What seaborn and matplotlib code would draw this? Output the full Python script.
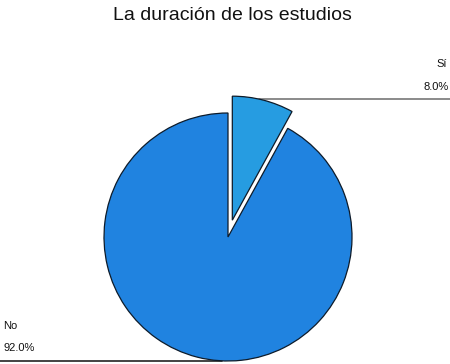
import numpy as np
import seaborn as sns
from matplotlib import pyplot as plt

TITLE = "La duración de los estudios"
LABELS = ["Sí", "No"]
VALUES = [8.0, 92.0]
PERCENT_LABELS = ["8.0%", "92.0%"]
COLORS = ["#269CE1", "#2083E0"]

W, H = 450, 364
CENTER = (228, H - 237)
RADIUS = 124
EXPLODE = [0.14, 0.0]  # fraction of radius


def arc_point(center, radius, angle_deg):
    # angle measured clockwise from 12 o'clock
    a = np.deg2rad(angle_deg)
    return center[0] + radius * np.sin(a), center[1] + radius * np.cos(a)


sns.set_theme(style="white")
plt.rcParams["font.family"] = ["Liberation Sans", "DejaVu Sans"]

fig = plt.figure(figsize=(W / 100, H / 100), dpi=100)
ax = fig.add_axes([0, 0, 1, 1])

# matplotlib's explode is in data units, so scale by the radius
wedges, _ = ax.pie(
    VALUES,
    colors=COLORS,
    explode=[e * RADIUS for e in EXPLODE],
    startangle=90,
    counterclock=False,
    center=CENTER,
    radius=RADIUS,
    wedgeprops={"edgecolor": "#0d1b2a", "linewidth": 0.9, "zorder": 3},
    frame=True,
)
ax.axis("off")
ax.set_xlim(0, W)
ax.set_ylim(0, H)
ax.set_aspect("equal")

# leader lines + labels
for i, w in enumerate(wedges):
    cx, cy = w.center
    start = sum(VALUES[:i]) / sum(VALUES) * 360
    if i == 0:
        x0, y0 = arc_point((cx, cy), RADIUS, start + 12.5)
        ax.plot([x0, W], [y0, y0], color="#777777", lw=1.2, zorder=2)
        ax.text(W - 3, y0 + 35, LABELS[i], ha="right", va="center", fontsize=8, color="#111111")
        ax.text(W - 1, y0 + 12, PERCENT_LABELS[i], ha="right", va="center", fontsize=8, color="#111111")
    else:
        x0, y0 = arc_point((cx, cy), RADIUS, 183)
        ax.plot([0, x0], [y0, y0], color="#222222", lw=1.2, zorder=2)
        ax.text(3, y0 + 35, LABELS[i], ha="left", va="center", fontsize=8, color="#111111")
        ax.text(3, y0 + 13, PERCENT_LABELS[i], ha="left", va="center", fontsize=8, color="#111111")

fig.text(232 / W, 1 - 16 / H, TITLE, ha="center", va="center", fontsize=14, color="#111111")

fig.savefig("out.png", dpi=100, facecolor="white")
